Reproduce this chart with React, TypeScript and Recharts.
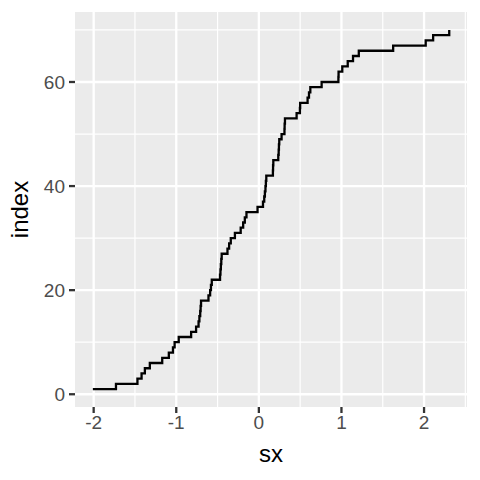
import { CartesianGrid, Label, Line, LineChart, XAxis, YAxis } from 'recharts'

// sorted sample values, one per row (index = row number)
const sx = [
  -2.01, -1.73, -1.47, -1.42, -1.38, -1.32, -1.17, -1.09, -1.04, -1.02,
  -0.97, -0.82, -0.76, -0.73, -0.72, -0.71, -0.705, -0.7, -0.61, -0.59,
  -0.58, -0.57, -0.47, -0.465, -0.46, -0.455, -0.45, -0.38, -0.36, -0.34,
  -0.29, -0.22, -0.19, -0.17, -0.15, -0.016, 0.05, 0.065, 0.073, 0.08,
  0.085, 0.09, 0.17, 0.172, 0.175, 0.235, 0.24, 0.243, 0.247, 0.275,
  0.31, 0.312, 0.316, 0.457, 0.497, 0.5, 0.59, 0.607, 0.623, 0.76,
  0.963, 0.965, 1.01, 1.076, 1.14, 1.21, 1.626, 2.02, 2.11, 2.305,
]

const xTicks = [-2, -1, 0, 1, 2]
const yTicks = [0, 20, 40, 60]
const xMinor = [-1.5, -0.5, 0.5, 1.5, 2.5]
const yMinor = [10, 30, 50, 70]

const data = sx.map((v, i) => ({ sx: v, index: i + 1 }))

const font = '"Liberation Sans", Arial, sans-serif'
const tickStyle = { fill: '#4D4D4D', fontSize: 19, fontFamily: font }

export default function App() {
  return (
    <div style={{ position: 'absolute', left: 0, top: 0, width: 480, height: 480, background: '#fff' }}>
      <LineChart
        width={480}
        height={480}
        data={data}
        margin={{ top: 12, right: 13, bottom: 0, left: 0 }}
      >
        <CartesianGrid
          fill="#EBEBEB"
          stroke="#FFFFFF"
          strokeWidth={1.2}
          horizontalValues={yMinor}
          verticalValues={xMinor}
        />
        <CartesianGrid
          fill="none"
          stroke="#FFFFFF"
          strokeWidth={2.3}
          horizontalValues={yTicks}
          verticalValues={xTicks}
        />
        <XAxis
          type="number"
          dataKey="sx"
          domain={[-2.226, 2.52]}
          ticks={xTicks}
          allowDataOverflow
          height={73}
          axisLine={false}
          tickSize={6}
          tickMargin={3}
          tickLine={{ stroke: '#333333', strokeWidth: 2.3 }}
          tick={tickStyle}
        >
          <Label
            value="sx"
            position="insideBottom"
            offset={18}
            style={{ fill: '#000', fontSize: 24, fontFamily: font }}
          />
        </XAxis>
        <YAxis
          type="number"
          dataKey="index"
          domain={[-2.45, 73.45]}
          ticks={yTicks}
          allowDataOverflow
          width={75}
          axisLine={false}
          tickSize={6}
          tickMargin={4}
          tickLine={{ stroke: '#333333', strokeWidth: 2.3 }}
          tick={tickStyle}
        >
          <Label
            value="index"
            angle={-90}
            position="insideLeft"
            offset={19}
            style={{ fill: '#000', fontSize: 24, fontFamily: font, textAnchor: 'middle' }}
          />
        </YAxis>
        <Line
          type="stepAfter"
          dataKey="index"
          stroke="#000000"
          strokeWidth={2.3}
          dot={false}
          isAnimationActive={false}
        />
      </LineChart>
    </div>
  )
}
